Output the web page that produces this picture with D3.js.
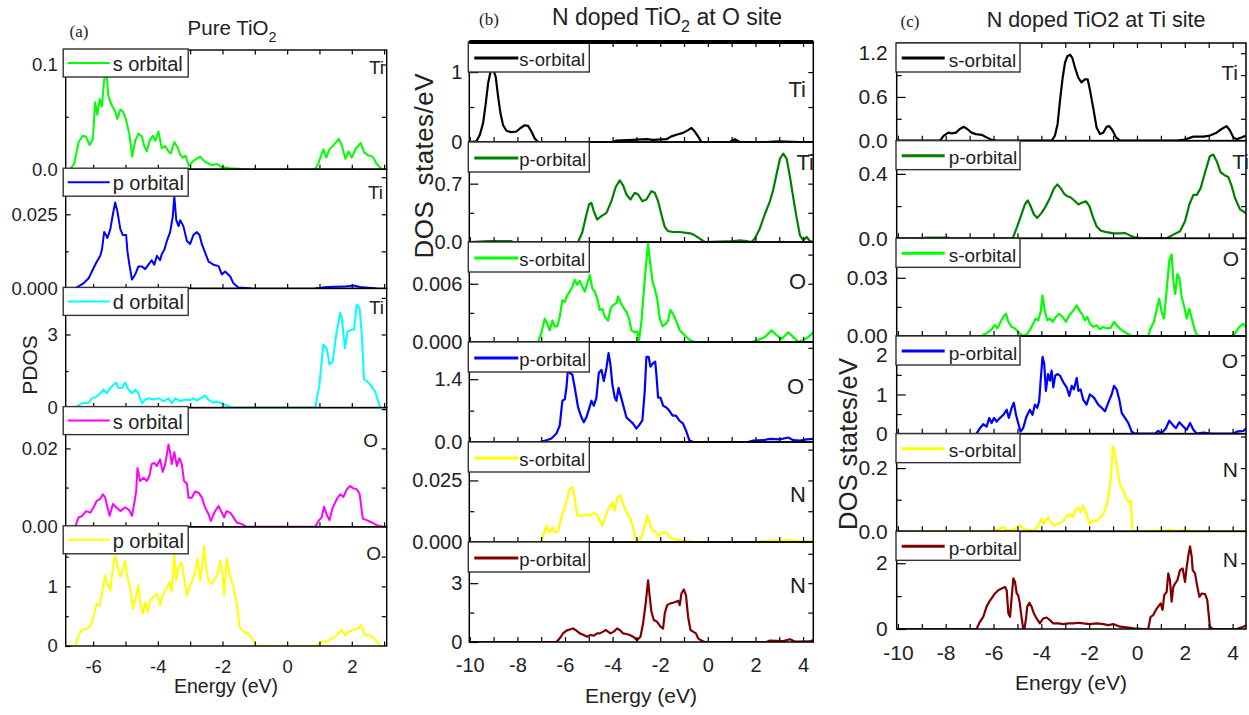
<!DOCTYPE html>
<html>
<head>
<meta charset="utf-8">
<script src="https://cdn.jsdelivr.net/npm/d3@7"></script>
<style>
  body { margin: 0; background: #fff; }
  svg { display: block; }
</style>
</head>
<body>
<svg id="chart" width="1249" height="715"></svg>
<script>
// ---------------- Energy axes ----------------
const energyTicksPure = [-6, -4, -2, 0, 2];
const energyTicksDoped = [-10, -8, -6, -4, -2, 0, 2, 4];
const energyDomainPure = [-6.85, 3.08];
const energyDomainOSite = [-10.02, 4.43];
const energyDomainTiSite = [-10.05, 4.56];

// ---------------- (a) Pure TiO2 ----------------
const pureLegend = ["s orbital", "p orbital", "d orbital", "s orbital", "p orbital"];
const pureAtoms = ["Ti", "Ti", "Ti", "O", "O"];
const pureYMax = [0.1138, 0.0402, 4.89, 0.0304, 2.0];
const pureYTicks = [[0, 0.1], [0, 0.025], [0, 3], [0, 0.02], [0, 1]];
const pureYLabels = [["0.0", "0.1"], ["0.000", "0.025"], ["0", "3"], ["0.00", "0.02"], ["0", "1"]];
const pureYMinor = [[0.05], [0.0125, 0.0375], [1.5, 4.5], [0.01, 0.03], [0.5, 1.5]];

const pureTi_s = [[-6.81,0],[-6.71,0],[-6.59,0.005],[-6.45,0.026],[-6.32,0.032],[-6.22,0.031],[-6.11,0.023],[-6.01,0.029],[-5.94,0.064],[-5.87,0.052],[-5.80,0.067],[-5.73,0.060],[-5.66,0.085],[-5.60,0.096],[-5.53,0.070],[-5.44,0.062],[-5.32,0.055],[-5.25,0.048],[-5.16,0.057],[-5.08,0.055],[-4.98,0.047],[-4.88,0.033],[-4.79,0.012],[-4.70,0.027],[-4.60,0.034],[-4.49,0.031],[-4.42,0.022],[-4.34,0.017],[-4.26,0.027],[-4.15,0.032],[-4.08,0.027],[-3.98,0.036],[-3.88,0.020],[-3.77,0.022],[-3.67,0.017],[-3.60,0.015],[-3.49,0.026],[-3.39,0.021],[-3.31,0.014],[-3.23,0.011],[-3.14,0.013],[-3.04,0.003],[-2.90,0.008],[-2.69,0.012],[-2.54,0.007],[-2.33,0.004],[-2.18,0.005],[-2.02,0.002],[-1.76,0.001],[-1.25,0],[-1.0,null],[0.87,0],[0.97,0.006],[1.04,0.012],[1.12,0.019],[1.21,0.011],[1.31,0.019],[1.41,0.022],[1.52,0.026],[1.60,0.029],[1.70,0.022],[1.80,0.010],[1.90,0.017],[2.00,0.011],[2.13,0.020],[2.28,0.025],[2.38,0.016],[2.52,0.013],[2.65,0.012],[2.77,0.005],[2.93,0]];

const pureTi_p = [[-6.56,0],[-6.30,0.0017],[-6.14,0.0034],[-6.04,0.0057],[-5.89,0.009],[-5.78,0.011],[-5.73,0.013],[-5.66,0.019],[-5.60,0.018],[-5.56,0.017],[-5.47,0.020],[-5.39,0.025],[-5.32,0.029],[-5.25,0.026],[-5.16,0.020],[-5.08,0.018],[-4.98,0.018],[-4.94,0.0125],[-4.88,0.008],[-4.80,0.003],[-4.70,0.0047],[-4.60,0.0074],[-4.49,0.0074],[-4.39,0.0065],[-4.29,0.008],[-4.19,0.0095],[-4.11,0.008],[-4.03,0.011],[-3.93,0.0095],[-3.88,0.0115],[-3.80,0.013],[-3.72,0.016],[-3.62,0.019],[-3.54,0.024],[-3.49,0.031],[-3.43,0.023],[-3.36,0.021],[-3.31,0.023],[-3.21,0.021],[-3.10,0.016],[-3.00,0.015],[-2.90,0.018],[-2.79,0.019],[-2.71,0.018],[-2.64,0.015],[-2.57,0.013],[-2.43,0.009],[-2.28,0.008],[-2.12,0.0075],[-2.02,0.0047],[-1.92,0.0057],[-1.76,0.004],[-1.66,0.0017],[-1.51,0.0003],[-1.09,0],[-1.0,null],[0.87,0],[1.23,0.0005],[1.74,0.0006],[2.05,0.001],[2.26,0.0005],[2.77,0]];

const pureTi_d = [[-6.55,0],[-6.51,0.04],[-6.35,0.18],[-6.14,0.2],[-6.04,0.38],[-5.89,0.45],[-5.78,0.59],[-5.68,0.74],[-5.58,0.59],[-5.47,0.8],[-5.37,0.94],[-5.29,1.03],[-5.22,0.8],[-5.11,0.8],[-5.01,1.03],[-4.91,0.74],[-4.80,0.59],[-4.70,0.74],[-4.60,0.59],[-4.55,0.38],[-4.49,0.18],[-4.39,0.33],[-4.29,0.38],[-4.13,0.33],[-3.98,0.38],[-3.82,0.27],[-3.67,0.38],[-3.57,0.18],[-3.46,0.38],[-3.31,0.27],[-3.15,0.33],[-3.00,0.31],[-2.90,0.38],[-2.79,0.29],[-2.64,0.41],[-2.54,0.49],[-2.43,0.31],[-2.28,0.2],[-2.18,0.25],[-2.02,0.18],[-1.87,0.08],[-1.66,0],[0.87,0],[1.00,0.94],[1.12,2.59],[1.23,2.4],[1.31,1.77],[1.41,1.89],[1.52,3.0],[1.64,3.88],[1.69,3.67],[1.79,2.44],[1.87,3.12],[2.00,3.2],[2.07,3.2],[2.15,4.23],[2.24,4.08],[2.31,3.0],[2.38,1.15],[2.46,1.1],[2.57,0.94],[2.72,0.66],[2.88,0]];

const pureO_s = [[-6.81,0],[-6.56,0],[-6.45,0.0024],[-6.35,0.0027],[-6.22,0.004],[-6.09,0.0036],[-5.99,0.0049],[-5.89,0.0066],[-5.78,0.0071],[-5.70,0.0083],[-5.63,0.0075],[-5.56,0.005],[-5.49,0.0028],[-5.39,0.0058],[-5.29,0.005],[-5.16,0.004],[-5.01,0.005],[-4.88,0.0042],[-4.80,0.0028],[-4.75,0.005],[-4.67,0.009],[-4.63,0.015],[-4.55,0.0117],[-4.44,0.0125],[-4.34,0.0117],[-4.26,0.013],[-4.19,0.016],[-4.11,0.0163],[-4.03,0.0155],[-3.93,0.0172],[-3.85,0.014],[-3.77,0.016],[-3.67,0.021],[-3.62,0.019],[-3.57,0.016],[-3.49,0.019],[-3.41,0.0155],[-3.33,0.0175],[-3.26,0.016],[-3.19,0.0117],[-3.10,0.011],[-3.05,0.0074],[-2.95,0.0074],[-2.85,0.009],[-2.74,0.0087],[-2.64,0.0075],[-2.54,0.005],[-2.43,0.0032],[-2.36,0.0015],[-2.23,0.004],[-2.12,0.0053],[-2.02,0.0036],[-1.95,0.0024],[-1.87,0.004],[-1.76,0.0036],[-1.66,0.0024],[-1.56,0.0011],[-1.40,0.0007],[-1.25,0],[0.87,0],[0.97,0.0015],[1.07,0.0024],[1.14,0.0051],[1.23,0.003],[1.31,0.0017],[1.41,0.0049],[1.54,0.0071],[1.64,0.0083],[1.74,0.0076],[1.85,0.0096],[1.95,0.0104],[2.05,0.0098],[2.15,0.0096],[2.24,0.0085],[2.34,0.0021],[2.46,0.0017],[2.62,0.0011],[2.77,0.0004],[2.98,0],[3.08,0]];

const pureO_p = [[-6.81,0],[-6.56,0],[-6.45,0.18],[-6.35,0.27],[-6.20,0.29],[-6.07,0.35],[-5.97,0.54],[-5.89,0.71],[-5.80,0.67],[-5.73,0.88],[-5.63,1.18],[-5.56,1.04],[-5.47,0.93],[-5.39,1.32],[-5.32,1.52],[-5.25,1.35],[-5.16,1.16],[-5.08,1.29],[-5.01,1.43],[-4.94,1.16],[-4.86,0.99],[-4.77,0.63],[-4.70,0.77],[-4.60,1.02],[-4.53,0.66],[-4.46,0.54],[-4.39,0.74],[-4.32,0.57],[-4.24,0.77],[-4.13,0.82],[-4.03,0.88],[-3.93,0.68],[-3.85,0.85],[-3.74,0.96],[-3.64,1.07],[-3.57,0.91],[-3.49,1.54],[-3.43,1.1],[-3.36,1.32],[-3.26,1.4],[-3.19,1.16],[-3.10,0.85],[-3.02,0.99],[-2.95,1.07],[-2.85,1.24],[-2.77,1.46],[-2.69,1.1],[-2.61,1.43],[-2.57,1.68],[-2.51,1.32],[-2.43,1.1],[-2.33,1.04],[-2.23,1.13],[-2.15,1.21],[-2.07,1.43],[-1.99,1.16],[-1.95,0.85],[-1.87,1.46],[-1.76,1.16],[-1.66,0.99],[-1.56,0.71],[-1.47,0.32],[-1.35,0.24],[-1.20,0.21],[-1.09,0.13],[-0.94,0],[0.92,0],[1.07,0.07],[1.23,0.07],[1.38,0.13],[1.54,0.18],[1.69,0.27],[1.79,0.18],[1.90,0.24],[2.05,0.27],[2.18,0.29],[2.29,0.35],[2.41,0.18],[2.57,0.18],[2.72,0.11],[2.88,0],[3.08,0]];

// ---------------- (b) N doped TiO2 at O site ----------------
const oSiteLegend = ["s-orbital", "p-orbital", "s-orbital", "p-orbital", "s-orbital", "p-orbital"];
const oSiteAtoms = ["Ti", "Ti", "O", "O", "N", "N"];
const oSiteYMax = [1.43, 1.2, 0.0103, 2.23, 0.0406, 5.1];
const oSiteYTicks = [[0, 1], [0, 0.7], [0, 0.006], [0, 1.4], [0, 0.025], [0, 3]];
const oSiteYLabels = [["0", "1"], ["0.0", "0.7"], ["0.000", "0.006"], ["0.0", "1.4"], ["0.000", "0.025"], ["0", "3"]];
const oSiteYMinor = [[0.5], [0.35, 1.05], [0.003, 0.009], [0.7, 2.1], [0.0125, 0.0375], [1.5, 4.5]];

const oSiteTi_s = [[-10.0,0],[-9.72,0.01],[-9.58,0.1],[-9.44,0.27],[-9.33,0.55],[-9.23,0.84],[-9.13,1.0],[-9.02,1.05],[-8.91,0.93],[-8.81,0.65],[-8.71,0.41],[-8.60,0.24],[-8.46,0.16],[-8.25,0.14],[-8.04,0.15],[-7.87,0.2],[-7.69,0.24],[-7.55,0.23],[-7.41,0.15],[-7.27,0.05],[-7.13,0],[-4.0,0],[-3.84,0.02],[-3.14,0.03],[-2.58,0.04],[-2.30,0.03],[-1.74,0.04],[-1.53,0.08],[-1.25,0.11],[-1.04,0.13],[-0.83,0.17],[-0.69,0.2],[-0.55,0.15],[-0.41,0.08],[-0.27,0],[0.92,0],[1.13,0.04],[1.34,0],[2.46,0],[2.96,0.01],[3.87,0],[4.43,0]];

const oSiteTi_p = [[-10.0,0],[-9.23,0.01],[-8.25,0.01],[-8.18,0],[-5.45,0],[-5.27,0.12],[-5.10,0.33],[-4.99,0.45],[-4.89,0.47],[-4.79,0.37],[-4.65,0.27],[-4.47,0.31],[-4.26,0.35],[-4.05,0.49],[-3.87,0.66],[-3.70,0.74],[-3.56,0.68],[-3.42,0.57],[-3.25,0.51],[-3.07,0.59],[-2.93,0.57],[-2.75,0.49],[-2.58,0.51],[-2.37,0.61],[-2.23,0.59],[-2.09,0.49],[-1.95,0.33],[-1.81,0.18],[-1.67,0.13],[-1.46,0.12],[-1.18,0.12],[-0.90,0.11],[-0.69,0.1],[-0.55,0.08],[-0.34,0.04],[-0.13,0],[1.06,0.01],[1.34,0.02],[1.62,0.01],[1.83,0],[1.97,0.04],[2.18,0.16],[2.39,0.33],[2.61,0.49],[2.75,0.63],[2.89,0.82],[3.03,1.0],[3.17,1.06],[3.31,1.0],[3.45,0.78],[3.59,0.53],[3.73,0.29],[3.87,0.08],[4.01,0.02],[4.15,0.06],[4.29,0.01],[4.43,0]];

const oSiteO_s = [[-10.0,0],[-7.13,0],[-6.99,0.001],[-6.85,0.0024],[-6.75,0.0019],[-6.64,0.0012],[-6.53,0.0022],[-6.43,0.0016],[-6.33,0.0016],[-6.22,0.0026],[-6.11,0.0043],[-6.01,0.0041],[-5.91,0.0048],[-5.80,0.0052],[-5.69,0.0057],[-5.59,0.0064],[-5.49,0.0059],[-5.38,0.0063],[-5.27,0.0057],[-5.17,0.0052],[-5.07,0.006],[-4.96,0.0069],[-4.85,0.0055],[-4.75,0.0052],[-4.65,0.0045],[-4.54,0.0033],[-4.43,0.0034],[-4.33,0.0026],[-4.19,0.0022],[-4.09,0.0034],[-3.98,0.0038],[-3.84,0.004],[-3.77,0.0047],[-3.67,0.0041],[-3.56,0.0036],[-3.42,0.0031],[-3.31,0.0024],[-3.21,0.0012],[-3.07,0.001],[-2.97,0.0011],[-2.89,0.0002],[-2.79,0.0021],[-2.69,0.0052],[-2.61,0.0076],[-2.51,0.0101],[-2.41,0.0079],[-2.32,0.0062],[-2.23,0.0055],[-2.13,0.0045],[-2.02,0.0024],[-1.90,0.0016],[-1.76,0.0019],[-1.67,0.0022],[-1.57,0.0033],[-1.46,0.0029],[-1.32,0.0021],[-1.18,0.0012],[-0.97,0.0007],[-0.76,0.0002],[-0.55,0],[1.83,0],[2.11,0.0002],[2.39,0.0005],[2.68,0.0012],[2.89,0.0007],[3.10,0.0003],[3.38,0.001],[3.59,0.0005],[3.80,0],[4.01,0.0002],[4.22,0.0005],[4.43,0.001]];

const oSiteO_p = [[-10.0,0],[-7.06,0],[-6.78,0.04],[-6.57,0.08],[-6.36,0.19],[-6.22,0.37],[-6.11,0.92],[-6.01,0.95],[-5.94,1.21],[-5.87,1.65],[-5.80,1.54],[-5.69,1.5],[-5.59,1.21],[-5.45,0.77],[-5.31,0.55],[-5.21,0.44],[-5.10,0.55],[-4.99,0.74],[-4.89,0.92],[-4.79,0.81],[-4.68,0.99],[-4.58,1.54],[-4.47,1.61],[-4.37,1.36],[-4.26,1.65],[-4.17,1.98],[-4.09,1.72],[-4.01,1.28],[-3.91,0.99],[-3.84,0.92],[-3.75,1.21],[-3.64,0.99],[-3.53,0.77],[-3.42,0.55],[-3.28,0.48],[-3.14,0.41],[-3.00,0.3],[-2.89,0.37],[-2.75,0.48],[-2.65,1.14],[-2.58,1.9],[-2.49,1.9],[-2.41,1.68],[-2.30,1.76],[-2.21,1.79],[-2.16,1.5],[-2.09,0.99],[-1.99,0.99],[-1.88,0.81],[-1.74,0.77],[-1.62,0.7],[-1.48,0.59],[-1.34,0.59],[-1.20,0.48],[-1.04,0.41],[-0.90,0.23],[-0.78,0.04],[-0.62,0],[1.69,0],[1.90,0.03],[2.32,0.04],[2.61,0.07],[3.03,0.06],[3.38,0.1],[3.59,0.04],[3.87,0.03],[4.15,0.06],[4.43,0.07]];

const oSiteN_s = [[-10.0,0],[-7.06,0],[-6.92,0.0025],[-6.78,0.0066],[-6.67,0.0038],[-6.53,0.0059],[-6.43,0.0038],[-6.29,0.0045],[-6.15,0.01],[-6.01,0.014],[-5.91,0.0175],[-5.80,0.0216],[-5.69,0.0223],[-5.59,0.018],[-5.49,0.0107],[-5.35,0.0107],[-5.21,0.0107],[-5.10,0.0113],[-4.96,0.0107],[-4.82,0.0116],[-4.65,0.0113],[-4.54,0.0086],[-4.43,0.0066],[-4.29,0.0107],[-4.15,0.014],[-4.01,0.016],[-3.91,0.0127],[-3.81,0.018],[-3.67,0.019],[-3.56,0.0154],[-3.42,0.012],[-3.28,0.01],[-3.14,0.0059],[-3.03,0.0011],[-2.93,0],[-2.79,0.0018],[-2.65,0.0066],[-2.55,0.0107],[-2.46,0.0086],[-2.37,0.0052],[-2.23,0.0045],[-2.09,0.0025],[-1.88,0.0038],[-1.74,0.0038],[-1.60,0.0018],[-1.39,0.0011],[-1.18,0.0007],[-0.90,0.0004],[-0.62,0],[1.90,0],[2.46,0.0004],[2.75,0.0007],[3.17,0.0004],[3.38,0.001],[3.73,0.0003],[4.43,0.0003]];

const oSiteN_p = [[-10.0,0],[-6.36,0],[-6.22,0.19],[-6.08,0.44],[-5.94,0.58],[-5.80,0.64],[-5.66,0.69],[-5.52,0.58],[-5.38,0.44],[-5.21,0.36],[-5.07,0.27],[-4.93,0.36],[-4.79,0.32],[-4.65,0.44],[-4.54,0.44],[-4.40,0.53],[-4.29,0.61],[-4.19,0.53],[-4.09,0.44],[-3.95,0.53],[-3.81,0.69],[-3.70,0.61],[-3.56,0.44],[-3.42,0.41],[-3.28,0.36],[-3.14,0.27],[-2.97,0.1],[-2.83,0.27],[-2.72,0.95],[-2.61,1.97],[-2.51,3.15],[-2.44,2.3],[-2.37,1.54],[-2.27,1.12],[-2.13,1.03],[-1.99,0.78],[-1.88,0.69],[-1.81,1.46],[-1.71,1.88],[-1.57,1.97],[-1.46,2.0],[-1.34,2.05],[-1.25,2.1],[-1.18,1.88],[-1.11,2.47],[-1.01,2.68],[-0.92,2.39],[-0.83,1.29],[-0.73,0.61],[-0.62,0.53],[-0.50,0.44],[-0.41,0.19],[-0.27,0.07],[-0.13,0],[2.46,0],[2.61,0.07],[3.17,0.05],[3.45,0.14],[3.66,0.02],[4.29,0.03],[4.43,0.1]];

// ---------------- (c) N doped TiO2 at Ti site ----------------
const tiSiteLegend = ["s-orbital", "p-orbital", "s-orbital", "p-orbital", "s-orbital", "p-orbital"];
const tiSiteAtoms = ["Ti", "Ti", "O", "O", "N", "N"];
const tiSiteYMax = [1.34, 0.606, 0.0503, 2.49, 0.309, 2.97];
const tiSiteYTicks = [[0, 0.6, 1.2], [0, 0.4], [0, 0.03], [0, 1, 2], [0, 0.2], [0, 2]];
const tiSiteYLabels = [["0.0", "0.6", "1.2"], ["0.0", "0.4"], ["0.00", "0.03"], ["0", "1", "2"], ["0.0", "0.2"], ["0", "2"]];
const tiSiteYMinor = [[0.3, 0.9], [0.2], [0.015, 0.045], [0.5, 1.5], [0.1, 0.3], [1]];

const tiSiteTi_s = [[-10.0,0],[-8.24,0],[-8.08,0.07],[-7.89,0.11],[-7.75,0.1],[-7.57,0.11],[-7.41,0.16],[-7.24,0.19],[-7.10,0.16],[-6.92,0.11],[-6.74,0.09],[-6.50,0.08],[-6.29,0.045],[-6.08,0.01],[-5.87,0],[-3.57,0],[-3.43,0.07],[-3.32,0.23],[-3.22,0.55],[-3.11,0.86],[-3.01,1.07],[-2.91,1.16],[-2.80,1.18],[-2.71,1.14],[-2.59,1.0],[-2.45,0.86],[-2.32,0.8],[-2.18,0.84],[-2.06,0.84],[-1.97,0.7],[-1.83,0.45],[-1.69,0.18],[-1.55,0.09],[-1.41,0.11],[-1.27,0.19],[-1.16,0.2],[-1.02,0.14],[-0.88,0.045],[-0.71,0],[1.66,0],[1.94,0.01],[2.36,0.055],[2.78,0.055],[3.05,0.07],[3.33,0.11],[3.54,0.16],[3.75,0.2],[3.89,0.14],[4.03,0.045],[4.17,0.02],[4.45,0.055],[4.59,0.07]];

const tiSiteTi_p = [[-10.0,0],[-8.94,0],[-8.87,0.004],[-7.89,0.004],[-7.80,0],[-5.20,0],[-5.03,0.065],[-4.83,0.148],[-4.69,0.21],[-4.57,0.235],[-4.48,0.21],[-4.31,0.148],[-4.17,0.127],[-3.99,0.158],[-3.81,0.2],[-3.64,0.25],[-3.47,0.31],[-3.33,0.335],[-3.19,0.31],[-3.05,0.277],[-2.91,0.26],[-2.78,0.255],[-2.59,0.23],[-2.45,0.21],[-2.32,0.22],[-2.13,0.23],[-1.99,0.2],[-1.83,0.127],[-1.69,0.075],[-1.52,0.048],[-1.27,0.038],[-0.99,0.031],[-0.71,0.031],[-0.50,0.033],[-0.36,0.023],[-0.15,0.008],[0.13,0],[1.24,0],[1.52,0.023],[1.80,0.044],[2.01,0.106],[2.19,0.21],[2.36,0.27],[2.50,0.27],[2.66,0.31],[2.85,0.41],[3.05,0.51],[3.19,0.52],[3.33,0.48],[3.50,0.41],[3.68,0.39],[3.82,0.38],[3.96,0.325],[4.10,0.25],[4.31,0.18],[4.52,0.16],[4.59,0.15]];

const tiSiteO_s = [[-10.0,0],[-6.50,0],[-6.29,0.0014],[-6.08,0.0034],[-5.94,0.0056],[-5.84,0.0039],[-5.70,0.0073],[-5.59,0.0098],[-5.48,0.0115],[-5.38,0.0073],[-5.24,0.0047],[-5.10,0.0039],[-4.97,0.0022],[-4.78,0],[-4.62,0.0008],[-4.48,0.003],[-4.34,0.0064],[-4.23,0.009],[-4.13,0.0081],[-4.03,0.0124],[-3.95,0.0208],[-3.86,0.0132],[-3.75,0.0081],[-3.64,0.009],[-3.53,0.0073],[-3.39,0.0098],[-3.25,0.0115],[-3.11,0.0098],[-2.97,0.0073],[-2.83,0.0107],[-2.66,0.0132],[-2.52,0.0158],[-2.41,0.0132],[-2.27,0.0107],[-2.18,0.0081],[-2.08,0.0098],[-1.97,0.0064],[-1.83,0.0047],[-1.69,0.0056],[-1.55,0.0034],[-1.41,0.0047],[-1.27,0.0039],[-1.10,0.0042],[-0.96,0.0073],[-0.82,0.0051],[-0.64,0.003],[-0.43,0.0014],[-0.22,0],[0.47,0],[0.57,0.0039],[0.71,0.0073],[0.82,0.0132],[0.93,0.0192],[1.03,0.0124],[1.13,0.009],[1.24,0.0234],[1.35,0.0386],[1.45,0.042],[1.52,0.0285],[1.60,0.0217],[1.69,0.0319],[1.77,0.0302],[1.87,0.02],[1.98,0.0149],[2.08,0.009],[2.19,0.014],[2.29,0.009],[2.40,0.0039],[2.50,0.0005],[2.64,0],[3.96,0],[4.10,0.0014],[4.28,0.0047],[4.45,0.0064],[4.59,0.0039]];

const tiSiteO_p = [[-6.71,0],[-6.57,0.14],[-6.43,0.24],[-6.29,0.18],[-6.18,0.4],[-6.08,0.27],[-5.98,0.4],[-5.87,0.31],[-5.73,0.4],[-5.59,0.48],[-5.45,0.61],[-5.36,0.4],[-5.24,0.66],[-5.15,0.79],[-5.06,0.48],[-4.97,0.27],[-4.87,0.05],[-4.76,0.14],[-4.62,0.44],[-4.48,0.61],[-4.37,0.48],[-4.27,0.74],[-4.17,0.66],[-4.09,0.83],[-4.03,1.35],[-3.95,1.96],[-3.88,1.78],[-3.81,1.09],[-3.72,1.52],[-3.64,1.35],[-3.57,1.61],[-3.50,1.18],[-3.42,1.48],[-3.33,1.52],[-3.22,1.48],[-3.08,1.31],[-2.94,1.18],[-2.83,0.96],[-2.73,1.22],[-2.64,1.13],[-2.52,1.42],[-2.45,1.09],[-2.36,1.13],[-2.25,0.87],[-2.11,0.74],[-1.97,1.0],[-1.80,0.92],[-1.62,0.74],[-1.48,0.66],[-1.34,0.57],[-1.20,0.79],[-1.06,1.0],[-0.96,1.22],[-0.85,1.13],[-0.74,0.87],[-0.64,0.53],[-0.50,0.4],[-0.36,0.27],[-0.22,0.05],[-0.08,0],[0.75,0],[0.89,0.07],[1.03,0.01],[1.21,0.14],[1.35,0.33],[1.49,0.23],[1.63,0.14],[1.77,0.29],[1.94,0.18],[2.08,0.1],[2.22,0.27],[2.36,0.1],[2.50,0],[2.78,0.03],[3.05,0],[4.03,0],[4.17,0.05],[4.45,0.07],[4.59,0.14]];

const tiSiteN_s = [[-10.0,0],[-6.15,0],[-5.98,0.003],[-5.87,0.005],[-5.59,0.0135],[-5.45,0.003],[-5.24,0.003],[-5.03,0.011],[-4.90,0.019],[-4.76,0.008],[-4.50,0.003],[-4.27,0.005],[-4.13,0.019],[-3.99,0.04],[-3.92,0.024],[-3.81,0.034],[-3.71,0.045],[-3.61,0.029],[-3.47,0.019],[-3.29,0.024],[-3.08,0.034],[-2.91,0.05],[-2.80,0.055],[-2.69,0.045],[-2.55,0.071],[-2.45,0.076],[-2.36,0.06],[-2.25,0.081],[-2.13,0.06],[-1.99,0.024],[-1.83,0.034],[-1.66,0.034],[-1.52,0.045],[-1.41,0.055],[-1.30,0.076],[-1.20,0.107],[-1.13,0.144],[-1.06,0.2],[-1.02,0.269],[-0.96,0.262],[-0.88,0.222],[-0.79,0.181],[-0.71,0.15],[-0.57,0.128],[-0.46,0.107],[-0.36,0.092],[-0.26,0.097],[-0.22,0.045],[-0.18,0],[1.24,0.003],[1.38,0.005],[1.66,0],[1.94,0.004],[2.50,0],[4.59,0]];

const tiSiteN_p = [[-10.0,0],[-6.71,0],[-6.57,0.22],[-6.43,0.37],[-6.29,0.68],[-6.18,0.83],[-6.08,0.93],[-5.94,1.08],[-5.80,1.18],[-5.66,1.23],[-5.52,1.28],[-5.45,1.18],[-5.38,0.47],[-5.31,0.37],[-5.24,0.98],[-5.17,1.54],[-5.10,1.43],[-5.03,1.08],[-4.97,1.03],[-4.90,0.78],[-4.83,0.37],[-4.76,0.02],[-4.71,0],[-4.64,0.32],[-4.59,0.68],[-4.50,0.8],[-4.41,0.68],[-4.31,0.47],[-4.20,0.32],[-4.06,0.17],[-3.92,0.32],[-3.78,0.35],[-3.64,0.27],[-3.50,0.17],[-3.29,0.17],[-3.08,0.15],[-2.87,0.17],[-2.66,0.17],[-2.45,0.19],[-2.25,0.17],[-1.97,0.15],[-1.69,0.17],[-1.41,0.15],[-1.20,0.12],[-0.99,0.15],[-0.71,0.07],[-0.43,0.05],[-0.15,0.02],[0.26,0],[0.47,0],[0.57,0.37],[0.68,0.42],[0.79,0.58],[0.89,0.68],[0.99,0.78],[1.07,0.58],[1.14,1.03],[1.24,1.13],[1.31,1.69],[1.38,1.48],[1.45,0.83],[1.52,1.28],[1.59,1.38],[1.69,1.48],[1.80,1.79],[1.91,1.84],[2.01,1.43],[2.08,1.89],[2.15,2.24],[2.22,2.51],[2.29,2.19],[2.33,1.79],[2.43,1.69],[2.50,1.38],[2.61,0.98],[2.71,1.08],[2.85,1.06],[2.94,0.88],[3.05,0.07],[3.17,0],[4.17,0],[4.45,0.07],[4.59,0.12]];

// ---------------- drawing ----------------
const svg = d3.select("#chart");
const FONT = "'Liberation Sans', Arial, Helvetica, sans-serif";
const INK = "#222";

const panels = [
  {
    key: "a", left: 65.7, right: 386.7, top: 50, bottom: 646,
    xDomain: energyDomainPure, xTicks: energyTicksPure,
    series: [pureTi_s, pureTi_p, pureTi_d, pureO_s, pureO_p],
    colors: ["#00ff00", "#0000ff", "#00ffff", "#ff00ff", "#ffff00"],
    legend: pureLegend, atoms: pureAtoms,
    yMax: pureYMax, yTicks: pureYTicks, yLabels: pureYLabels, yMinor: pureYMinor,
    lineW: 2, frameW: 1.4, topW: 1.4,
    majorLen: 5, minorLen: 3, rightLen: 5, xTickLen: 4.5,
    tickFont: 18.5, yPad: 8, xPad: 14,
    legBox: [-2.5, -1, 125, 28], legLine: [2, 44, 13], legText: [47, 21], legFont: 20, legW: 2,
    atomFont: 19,
    atomPos: [[384, 24], [383, 30], [384, 26], [378, 39], [381, 33]]
  },
  {
    key: "b", left: 469.3, right: 813.3, top: 42, bottom: 642,
    xDomain: energyDomainOSite, xTicks: energyTicksDoped,
    series: [oSiteTi_s, oSiteTi_p, oSiteO_s, oSiteO_p, oSiteN_s, oSiteN_p],
    colors: ["#000000", "#008000", "#00ff00", "#0000ff", "#ffff00", "#800000"],
    legend: oSiteLegend, atoms: oSiteAtoms,
    yMax: oSiteYMax, yTicks: oSiteYTicks, yLabels: oSiteYLabels, yMinor: oSiteYMinor,
    lineW: 2.2, frameW: 1.5, topW: 4,
    majorLen: 9, minorLen: 5, rightLen: 5, xTickLen: 5,
    tickFont: 20, yPad: 7, xPad: 16,
    legBox: [-1, 0, 121, 30], legLine: [5, 49, 16], legText: [50, 23.5], legFont: 18.5, legW: 3,
    atomFont: 22,
    atomPos: [[806, 55], [814, 28], [806, 47], [804, 52], [806, 60], [806, 51]]
  },
  {
    key: "c", left: 896.7, right: 1246, top: 43, bottom: 629,
    xDomain: energyDomainTiSite, xTicks: energyTicksDoped,
    series: [tiSiteTi_s, tiSiteTi_p, tiSiteO_s, tiSiteO_p, tiSiteN_s, tiSiteN_p],
    colors: ["#000000", "#008000", "#00ff00", "#0000ff", "#ffff00", "#800000"],
    legend: tiSiteLegend, atoms: tiSiteAtoms,
    yMax: tiSiteYMax, yTicks: tiSiteYTicks, yLabels: tiSiteYLabels, yMinor: tiSiteYMinor,
    lineW: 2.2, frameW: 1.5, topW: 1.5,
    majorLen: 9, minorLen: 5, rightLen: 5, xTickLen: 5,
    tickFont: 21, yPad: 9, xPad: 16,
    legBox: [-0.7, 0, 124, 29], legLine: [5, 48, 15], legText: [52, 23.5], legFont: 19, legW: 3,
    atomFont: 21,
    atomPos: [[1238, 37], [1249, 28], [1239, 28], [1238, 32], [1238, 43], [1238, 36]]
  }
];

function styleAxis(sel, size) {
  sel.select(".domain").remove();
  sel.attr("font-family", FONT).attr("font-size", size);
  sel.selectAll("line").attr("stroke", "#000").attr("stroke-width", 1.2);
  sel.selectAll("text").attr("fill", INK);
}

function drawPanel(p) {
  const g = svg.append("g").attr("class", "panel-" + p.key);
  const x = d3.scaleLinear().domain(p.xDomain).range([p.left, p.right]);
  const n = p.series.length;
  const rowH = (p.bottom - p.top) / n;
  const unitTicks = d3.range(Math.ceil(p.xDomain[0]), Math.floor(p.xDomain[1]) + 1);
  const width = p.right - p.left;

  p.series.forEach((data, i) => {
    const y0 = p.top + i * rowH, y1 = y0 + rowH;
    const y = d3.scaleLinear().domain([0, p.yMax[i]]).range([y1, y0]);
    const row = g.append("g");

    const clipId = `clip-${p.key}-${i}`;
    row.append("clipPath").attr("id", clipId)
      .append("rect").attr("x", p.left).attr("y", y0 - 1).attr("width", width).attr("height", rowH + 1);

    row.append("path")
      .datum(data)
      .attr("clip-path", `url(#${clipId})`)
      .attr("fill", "none")
      .attr("stroke", p.colors[i])
      .attr("stroke-width", p.lineW)
      .attr("stroke-linejoin", "round")
      .attr("d", d3.line().defined(d => d[1] != null).x(d => x(d[0])).y(d => y(d[1])));

    // frame of the row
    row.append("rect")
      .attr("x", p.left).attr("y", y0).attr("width", width).attr("height", rowH)
      .attr("fill", "none").attr("stroke", "#000").attr("stroke-width", p.frameW);

    // left axis: labelled ticks and minor ticks, pointing inward
    row.append("g").attr("transform", `translate(${p.left},0)`)
      .call(d3.axisLeft(y).tickValues(p.yTicks[i]).tickFormat((d, j) => p.yLabels[i][j])
        .tickSize(-p.majorLen).tickPadding(p.yPad))
      .call(s => styleAxis(s, p.tickFont));
    row.append("g").attr("transform", `translate(${p.left},0)`)
      .call(d3.axisLeft(y).tickValues(p.yMinor[i].filter(v => v < p.yMax[i])).tickFormat("").tickSize(-p.minorLen))
      .call(s => styleAxis(s, p.tickFont));

    // right axis ticks
    row.append("g").attr("transform", `translate(${p.right},0)`)
      .call(d3.axisRight(y).tickValues(p.yTicks[i].concat(p.yMinor[i]).filter(v => v > 0 && v < p.yMax[i]))
        .tickFormat("").tickSize(-p.rightLen))
      .call(s => styleAxis(s, p.tickFont));

    // energy ticks along the bottom of every row
    row.append("g").attr("transform", `translate(0,${y1})`)
      .call(d3.axisBottom(x).tickValues(unitTicks).tickFormat("").tickSize(-p.xTickLen))
      .call(s => styleAxis(s, p.tickFont));
    if (i === 0) {
      row.append("g").attr("transform", `translate(0,${y0})`)
        .call(d3.axisTop(x).tickValues(unitTicks).tickFormat("").tickSize(-p.xTickLen))
        .call(s => styleAxis(s, p.tickFont));
    }

    // element label
    row.append("text")
      .attr("x", p.atomPos[i][0]).attr("y", y0 + p.atomPos[i][1])
      .attr("text-anchor", "end")
      .attr("font-family", FONT).attr("font-size", p.atomFont).attr("fill", INK)
      .text(p.atoms[i]);

    // legend box
    const lg = row.append("g");
    lg.append("rect")
      .attr("x", p.left + p.legBox[0]).attr("y", y0 + p.legBox[1])
      .attr("width", p.legBox[2]).attr("height", p.legBox[3])
      .attr("fill", "#fff").attr("stroke", "#333").attr("stroke-width", 1.4);
    lg.append("line")
      .attr("x1", p.left + p.legLine[0]).attr("x2", p.left + p.legLine[1])
      .attr("y1", y0 + p.legLine[2]).attr("y2", y0 + p.legLine[2])
      .attr("stroke", p.colors[i]).attr("stroke-width", p.legW);
    lg.append("text")
      .attr("x", p.left + p.legText[0]).attr("y", y0 + p.legText[1])
      .attr("font-family", FONT).attr("font-size", p.legFont).attr("fill", INK)
      .text(p.legend[i]);
  });

  // heavier top edge where the panel uses one
  if (p.topW > p.frameW) {
    g.append("line").attr("x1", p.left).attr("x2", p.right).attr("y1", p.top).attr("y2", p.top)
      .attr("stroke", "#000").attr("stroke-width", p.topW);
  }

  // energy labels under the last row
  g.append("g").attr("transform", `translate(0,${p.bottom})`)
    .call(d3.axisBottom(x).tickValues(p.xTicks).tickFormat(d => String(d)).tickSize(0).tickPadding(p.xPad))
    .call(s => styleAxis(s, p.tickFont));
}

panels.forEach(drawPanel);

// ---------------- titles and axis names ----------------
function label(txt, x, y, size, opts = {}) {
  const t = svg.append("text")
    .attr("x", x).attr("y", y)
    .attr("font-family", opts.family || FONT)
    .attr("font-size", size)
    .attr("fill", INK)
    .attr("text-anchor", opts.anchor || "middle");
  if (opts.rotate) t.attr("transform", `rotate(-90,${x},${y})`);
  if (opts.length) t.attr("textLength", opts.length).attr("lengthAdjust", "spacing");
  if (opts.pre) t.style("white-space", "pre");
  t.text(txt);
  return t;
}

function subscriptTitle(before, sub, after, x, y, size) {
  const t = svg.append("text")
    .attr("x", x).attr("y", y)
    .attr("font-family", FONT).attr("font-size", size).attr("fill", INK)
    .attr("text-anchor", "middle");
  t.append("tspan").text(before);
  t.append("tspan").attr("dy", size * 0.32).attr("font-size", size * 0.7).text(sub);
  t.append("tspan").attr("dy", -size * 0.32).text(after);
}

const SERIF = "'Liberation Serif', 'Times New Roman', serif";
label("(a)", 79, 37, 17, { family: SERIF });
label("(b)", 489, 25, 17, { family: SERIF });
label("(c)", 910, 27, 17, { family: SERIF });

subscriptTitle("Pure TiO", "2", "", 232, 35, 20.5);
subscriptTitle("N doped TiO", "2", " at O site", 667, 25, 23);
label("N doped TiO2 at Ti site", 1096, 27, 21.5);

label("PDOS", 37, 365, 21, { rotate: true });
label("DOS  states/eV", 433, 166, 26, { rotate: true, length: 185, pre: true });
label("DOS states/eV", 857, 444, 25.5, { rotate: true, length: 172 });

label("Energy (eV)", 226, 693, 19.5);
label("Energy (eV)", 641, 703, 21);
label("Energy (eV)", 1071, 690, 21);
</script>
</body>
</html>
